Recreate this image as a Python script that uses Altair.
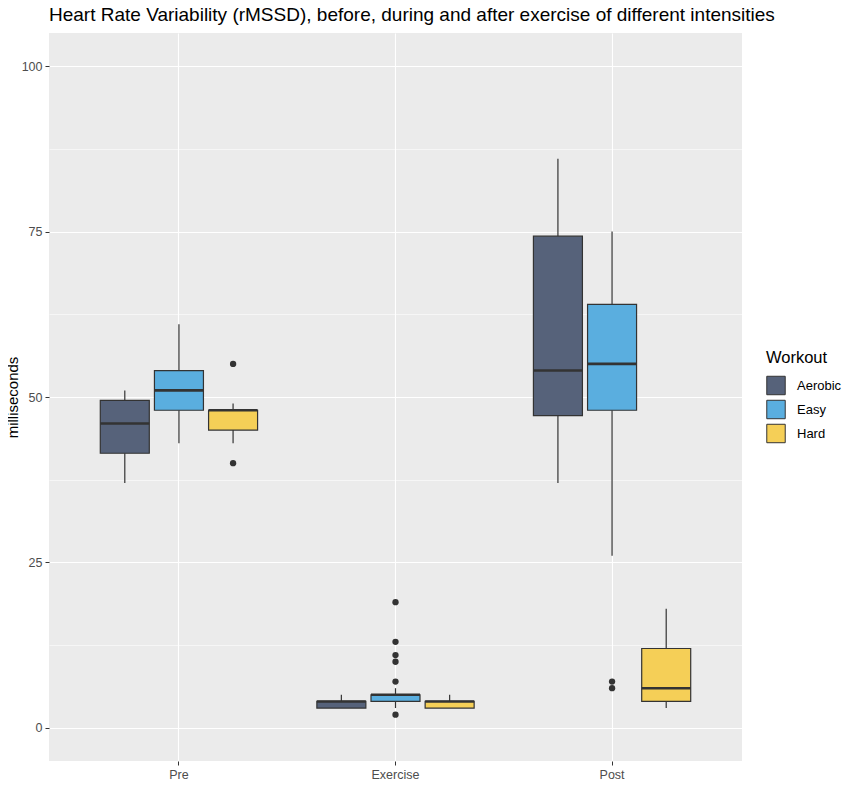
import altair as alt
import pandas as pd

phases = ["Pre", "Exercise", "Post"]
workouts = ["Aerobic", "Easy", "Hard"]
colors = ["#56627A", "#5AAEDF", "#F5CF57"]

# box statistics per (phase, workout)
box_phase = ["Pre", "Pre", "Pre", "Exercise", "Exercise", "Exercise", "Post", "Post", "Post"]
box_workout = ["Aerobic", "Easy", "Hard"] * 3
w_min = [37, 43, 43, 3, 3, 3, 37, 26, 3]
w_q1 = [41.5, 48, 45, 3, 4, 3, 47.2, 48, 4]
w_med = [46, 51, 48, 4, 5, 4, 54, 55, 6]
w_q3 = [49.5, 54, 48, 4, 5, 4, 74.3, 64, 12]
w_max = [51, 61, 49, 5, 6, 5, 86, 75, 18]

# outliers
out_phase = ["Pre", "Pre", "Exercise", "Exercise", "Exercise", "Exercise", "Exercise", "Exercise", "Post", "Post"]
out_workout = ["Hard", "Hard", "Easy", "Easy", "Easy", "Easy", "Easy", "Easy", "Easy", "Easy"]
out_value = [55, 40, 19, 13, 11, 10, 7, 2, 7, 6]

boxes = pd.DataFrame({
    "phase": box_phase, "workout": box_workout,
    "min": w_min, "q1": w_q1, "median": w_med, "q3": w_q3, "max": w_max,
})
outl = pd.DataFrame({"phase": out_phase, "workout": out_workout, "value": out_value})

FONT = "Liberation Sans"
INK = "#333333"

x_enc = alt.X(
    "phase:N", sort=phases, title=None,
    scale=alt.Scale(domain=phases, paddingInner=0, paddingOuter=0.1),
    axis=alt.Axis(labelColor="#4D4D4D", labelFontSize=12.5, labelPadding=3,
                  tickColor="#333333", tickSize=4, domain=False,
                  grid=True, gridColor="white", gridWidth=1.1, labelAngle=0),
)
xo_enc = alt.XOffset(
    "workout:N", sort=workouts,
    scale=alt.Scale(domain=workouts, paddingInner=0, paddingOuter=0.5),
)
yscale = alt.Scale(domain=[-5, 105], nice=False, zero=False)
y_axis = alt.Axis(
    values=[0, 12.5, 25, 37.5, 50, 62.5, 75, 87.5, 100],
    labelExpr="datum.value % 25 == 0 ? datum.label : ''",
    labelColor="#4D4D4D", labelFontSize=12.5, labelPadding=3,
    tickColor="#333333", tickSize=4,
    tickOpacity={"condition": {"test": "datum.value % 25 != 0", "value": 0}, "value": 1},
    gridColor="white",
    gridWidth={"condition": {"test": "datum.value % 25 != 0", "value": 0.55}, "value": 1.1},
    domain=False, title="milliseconds", titleFontSize=15, titleFontWeight="normal",
    titleColor="black", titlePadding=1,
)

base = alt.Chart(boxes)

lower = base.mark_rule(color=INK, strokeWidth=1.2).encode(
    x=x_enc, xOffset=xo_enc,
    y=alt.Y("min:Q", scale=yscale, axis=y_axis), y2="q1:Q",
)
upper = base.mark_rule(color=INK, strokeWidth=1.2).encode(
    x=x_enc, xOffset=xo_enc,
    y=alt.Y("q3:Q", scale=yscale), y2="max:Q",
)
box = base.mark_bar(size=49, stroke=INK, strokeWidth=1.2, opacity=1).encode(
    x=x_enc, xOffset=xo_enc,
    y=alt.Y("q1:Q", scale=yscale), y2="q3:Q",
    fill=alt.Fill("workout:N", sort=workouts,
                  scale=alt.Scale(domain=workouts, range=colors),
                  legend=alt.Legend(
                      title="Workout", orient="none", legendX=717, legendY=317,
                      titleFontSize=16.5, titleFontWeight="normal", titleColor="black",
                      titlePadding=9, labelFontSize=13, labelColor="black",
                      symbolType="square", symbolSize=340, symbolStrokeColor=INK,
                      symbolStrokeWidth=1, symbolOpacity=1, rowPadding=0,
                      labelOffset=11)),
)
med = base.mark_tick(size=49, thickness=2.6, color=INK, opacity=1).encode(
    x=x_enc, xOffset=xo_enc,
    y=alt.Y("median:Q", scale=yscale),
)
pts = alt.Chart(outl).mark_circle(size=40, color=INK, opacity=1).encode(
    x=x_enc, xOffset=xo_enc,
    y=alt.Y("value:Q", scale=yscale),
)

chart = alt.layer(lower, upper, box, med, pts).properties(
    width=693, height=728,
    padding={"left": 41, "top": 25, "right": 100, "bottom": 31},
    autosize=alt.AutoSizeParams(type="none"),
    title=alt.Title(
        "Heart Rate Variability (rMSSD), before, during and after exercise of different intensities",
        anchor="start", frame="group", fontSize=19, fontWeight="normal",
        color="black", font=FONT, offset=8,
    ),
).configure(font=FONT).configure_view(fill="#EBEBEB", stroke=None)

chart.save("out.html", embed_options={"renderer": "svg", "actions": False})
